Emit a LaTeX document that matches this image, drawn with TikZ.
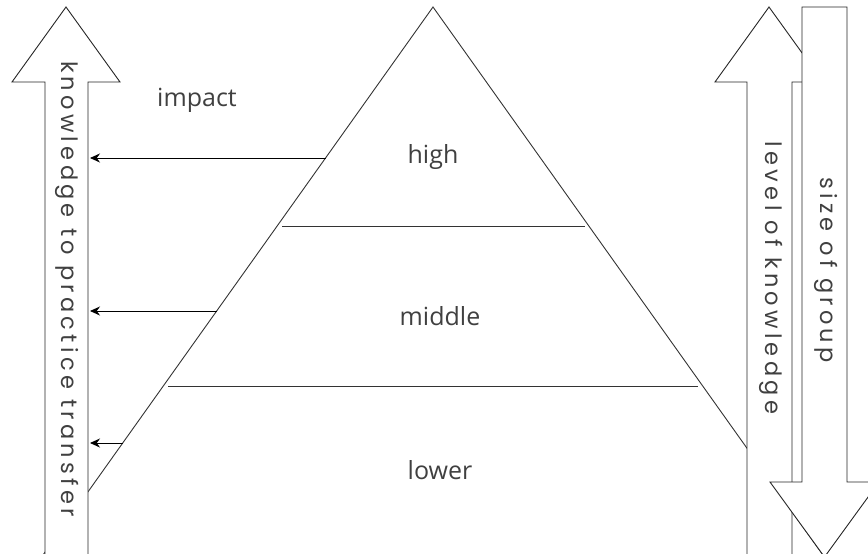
\documentclass[tikz,border=0pt]{standalone}
\usepackage{fontspec}
\setmainfont{Open Sans}
\newfontfamily\roundfont[LetterSpace=19]{Poppins}
\usetikzlibrary{arrows.meta}
\begin{document}
\begin{tikzpicture}[x=1pt,y=-1pt,line width=0.9pt,
    bigarrow/.style={draw=black!85,fill=white},
    level/.style={font=\fontsize{25}{29}\selectfont,text=black!75},
    side/.style={rotate=-90,font=\roundfont\fontsize{22.5}{26}\selectfont,text=black!75},
    push/.style={-{Stealth[length=10pt,width=9pt]}}]
    \useasboundingbox (0,0) rectangle (868,554);
    \clip (0,0) rectangle (868,554);
    % pyramid
    \draw[black!80] (11,600) -- (433,7) -- (855,600);
    \draw[black!80] (282,226) -- (585,226);
    \draw[black!80] (168,386) -- (698,386);
    \node[level] (high) at (433,157) {high};
    \node[level] (middle) at (440,316) {middle};
    \node[level] (lower) at (440,470) {lower};
    \node[level] (impact) at (197,100) {impact};
    % left arrow
    \draw[bigarrow] (66,7) -- (120,82) -- (88,82) -- (88,600) -- (45,600) -- (45,82) -- (12,82) -- cycle;
    \node[side] (transfer) at (67,289) {knowledge to practice transfer};
    % right arrows
    \draw[bigarrow] (769,7) -- (823,82) -- (792,82) -- (792,600) -- (747,600) -- (747,82) -- (715,82) -- cycle;
    \draw[bigarrow] (802,7) -- (847,7) -- (847,482) -- (879,482) -- (824.5,557) -- (770,482) -- (802,482) -- cycle;
    \node[side] (knowlevel) at (771,278) {level of knowledge};
    \node[side] (groupsize) at (826,270) {size of group};
    % transfer arrows
    \coordinate (h1) at (326,158);
    \coordinate (h2) at (90,158);
    \coordinate (m1) at (217,311);
    \coordinate (m2) at (90,311);
    \coordinate (l1) at (123,443);
    \coordinate (l2) at (90,443);
    \draw[push] (h1) -- (h2);
    \draw[push] (m1) -- (m2);
    \draw[push] (l1) -- (l2);
\end{tikzpicture}
\end{document}
